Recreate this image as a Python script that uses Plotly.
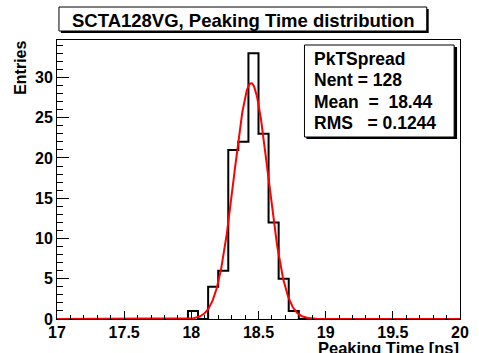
import numpy as np
import plotly.graph_objects as go

# ---- data ----
x_min, x_max, bin_width = 17.0, 20.0, 0.075
counts = [0, 0, 0, 0, 0, 0, 0, 0, 0, 0, 0, 0, 0,
          1, 0, 4, 6, 21, 22, 33, 23, 12, 5, 1,
          0, 0, 0, 0, 0, 0, 0, 0, 0, 0, 0, 0, 0, 0, 0, 0]
fit_constant = 29.3
fit_mean = 18.445
fit_sigma = 0.127
x_tick_vals = [17, 17.5, 18, 18.5, 19, 19.5, 20]
x_tick_text = ["17", "17.5", "18", "18.5", "19", "19.5", "20"]
y_tick_vals = [0, 5, 10, 15, 20, 25, 30]
y_tick_text = ["0", "5", "10", "15", "20", "25", "30"]
title_text = "SCTA128VG, Peaking Time distribution"
stats_lines = ["PkTSpread", "Nent = 128", "Mean\u00a0\u00a0=\u00a0\u00a018.44", "RMS\u00a0\u00a0\u00a0=\u00a00.1244"]
x_title = "Peaking Time [ns]"
y_title = "Entries"

FONT = "Liberation Sans, Arial, Helvetica, sans-serif"
W, H = 479, 353
L, R, T, B = 57, 10, 40, 34
PW, PH = W - L - R, H - T - B


def fx(px):
    return (px - L) / PW


def fy(py):
    return (H - B - py) / PH


edges = [x_min + i * bin_width for i in range(len(counts) + 1)]
hist_y = list(counts) + [counts[-1]]

xf = np.linspace(x_min, x_max, 800)
yf = fit_constant * np.exp(-0.5 * ((xf - fit_mean) / fit_sigma) ** 2)

fig = go.Figure()
fig.add_trace(go.Scatter(x=edges, y=hist_y, mode="lines", line=dict(shape="hv", color="black", width=2),
                         hoverinfo="skip", showlegend=False))
fig.add_trace(go.Scatter(x=xf, y=yf, mode="lines", line=dict(color="#ff0000", width=2),
                         hoverinfo="skip", showlegend=False))

tickfont = dict(family=FONT, size=16, color="black")
fig.update_xaxes(range=[x_min, x_max], tickvals=x_tick_vals, ticktext=["<b>%s</b>" % t for t in x_tick_text],
                 ticks="inside", ticklen=8, tickwidth=1, tickcolor="black",
                 minor=dict(ticks="inside", ticklen=4, dtick=0.1, tick0=17, tickcolor="black", showgrid=False),
                 showline=True, linecolor="black", linewidth=1, mirror=True,
                 showgrid=False, zeroline=False, tickfont=tickfont, ticklabelstandoff=-1)
fig.update_yaxes(range=[0, 34.65], tickvals=y_tick_vals, ticktext=["<b>%s</b>" % t for t in y_tick_text],
                 ticks="inside", ticklen=12, tickwidth=1, tickcolor="black",
                 minor=dict(ticks="inside", ticklen=6, dtick=1, tick0=0, tickcolor="black", showgrid=False),
                 showline=True, linecolor="black", linewidth=1, mirror=True,
                 showgrid=False, zeroline=False, tickfont=tickfont)

shapes = []
# title box with shadow
shapes.append(dict(type="rect", xref="paper", yref="paper", x0=fx(61), x1=fx(437), y0=fy(33), y1=fy(9),
                   fillcolor="black", line=dict(width=0), layer="above"))
shapes.append(dict(type="rect", xref="paper", yref="paper", x0=fx(59), x1=fx(435), y0=fy(31), y1=fy(7),
                   fillcolor="white", line=dict(color="black", width=1), layer="above"))
# stats box with shadow
shapes.append(dict(type="rect", xref="paper", yref="paper", x0=fx(312), x1=fx(466), y0=fy(139), y1=fy(47),
                   fillcolor="black", line=dict(width=0), layer="above"))
shapes.append(dict(type="rect", xref="paper", yref="paper", x0=fx(310), x1=fx(463), y0=fy(137), y1=fy(45),
                   fillcolor="white", line=dict(color="black", width=1), layer="above"))

annotations = []
annotations.append(dict(text="<b>%s</b>" % title_text, xref="paper", yref="paper", x=fx(248), y=fy(21),
                        xanchor="center", yanchor="middle", showarrow=False,
                        font=dict(family=FONT, size=18.5, color="black")))
for i, line in enumerate(stats_lines):
    annotations.append(dict(text="<b>%s</b>" % line, xref="paper", yref="paper", x=fx(318), y=fy(58.5 + 21.5 * i),
                            xanchor="left", yanchor="middle", showarrow=False,
                            font=dict(family=FONT, size=17.5, color="black")))
annotations.append(dict(text="<b>%s</b>" % x_title, xref="paper", yref="paper", x=fx(470), y=fy(337),
                        xanchor="right", yanchor="top", showarrow=False,
                        font=dict(family=FONT, size=16.5, color="black")))
annotations.append(dict(text="<b>%s</b>" % y_title, xref="paper", yref="paper", x=fx(19), y=fy(39),
                        xanchor="center", yanchor="top", textangle=-90, showarrow=False,
                        font=dict(family=FONT, size=16, color="black")))

fig.update_layout(width=W, height=H, margin=dict(l=L, r=R, t=T, b=B, pad=0),
                  paper_bgcolor="white", plot_bgcolor="white",
                  shapes=shapes, annotations=annotations, showlegend=False)

fig.write_html("out.html")
